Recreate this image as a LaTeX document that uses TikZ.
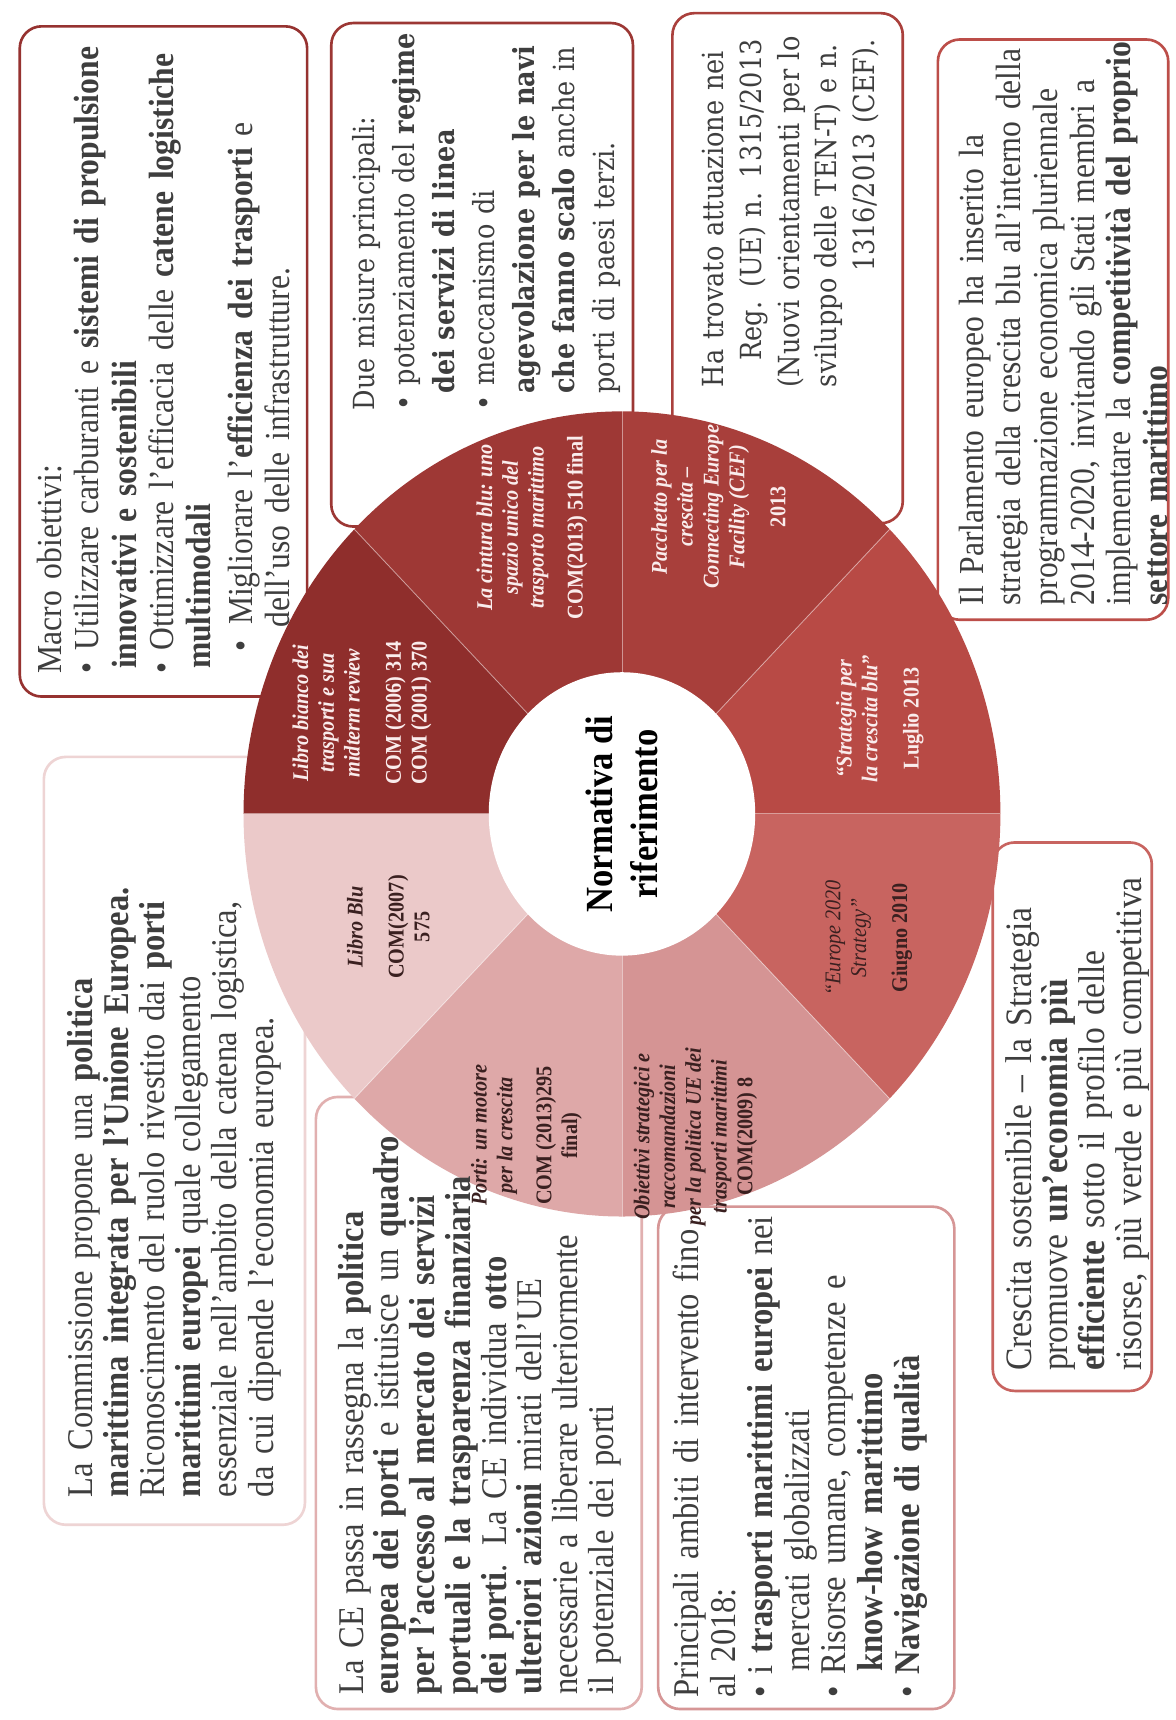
\documentclass[tikz,border=0pt]{standalone}
\usepackage{fontspec}
\setmainfont{Liberation Serif}[FakeStretch=0.9]
\newfontfamily\wideserif{DejaVu Serif}[FakeStretch=0.88]
\definecolor{bodytxt}{RGB}{62,62,62}
\definecolor{sLbi}{RGB}{143,46,44}
\definecolor{sCin}{RGB}{158,56,53}
\definecolor{sPac}{RGB}{168,63,59}
\definecolor{sStr}{RGB}{184,74,69}
\definecolor{sEur}{RGB}{200,100,96}
\definecolor{sObi}{RGB}{213,148,148}
\definecolor{sPor}{RGB}{222,168,168}
\definecolor{sLbl}{RGB}{235,201,201}
\definecolor{labLight}{RGB}{250,236,236}
\definecolor{labDark}{RGB}{58,32,32}
\definecolor{bA}{RGB}{150,50,48}
\definecolor{bB}{RGB}{156,55,52}
\definecolor{bC}{RGB}{170,64,60}
\definecolor{bD}{RGB}{188,78,73}
\definecolor{bE}{RGB}{200,100,96}
\definecolor{bF}{RGB}{214,150,150}
\definecolor{bG}{RGB}{225,176,176}
\definecolor{bH}{RGB}{238,212,212}
\newcommand\wseg[3]{\fill[#1] (#2:1) arc[start angle=#2, end angle=#3, radius=1] -- (#3:0.35) arc[start angle=#3, end angle=#2, radius=0.35] -- cycle;}
\newcommand\jl[2]{\makebox[#1][s]{#2}}
\begin{document}
\begin{tikzpicture}[x=1pt,y=1pt,
  bx/.style={line width=2.4pt, rounded corners=20pt, fill=white},
  txt/.style={rotate=90, anchor=base west, inner sep=0pt, align=left, text=bodytxt},
  lab/.style={rotate=90, anchor=center, inner sep=0pt, align=center, font=\fontsize{20.5}{23.5}\selectfont\bfseries},
  sep/.style={white, opacity=0.45, line width=0.8pt}]
\useasboundingbox (0,0) rectangle (1072,-1568);
\fill[white] (0,0) rectangle (1072,-1568);
% boxes
\draw[bx, draw=bA] (18,-24) rectangle (280,-635);
\draw[bx, draw=bB] (302,-21) rectangle (577,-480);
\draw[bx, draw=bC] (613,-12) rectangle (823,-477);
\draw[bx, draw=bD] (855,-36) rectangle (1065,-565);
\draw[bx, draw=bE] (905,-768) rectangle (1050,-1268);
\draw[bx, draw=bF] (600,-1100) rectangle (870,-1558);
\draw[bx, draw=bG] (288,-1000) rectangle (585,-1558);
\draw[bx, draw=bH] (40,-690) rectangle (278,-1390);
% wheel
\begin{scope}[shift={(567,-742)}, xscale=345, yscale=367]
\wseg{sLbi}{135}{180}
\wseg{sCin}{90}{135}
\wseg{sPac}{45}{90}
\wseg{sStr}{0}{45}
\wseg{sEur}{-45}{0}
\wseg{sObi}{-90}{-45}
\wseg{sPor}{-135}{-90}
\wseg{sLbl}{-180}{-135}
\foreach \a in {0,45,...,315} \draw[sep] (\a:0.35) -- (\a:1);
\fill[white] (0,0) circle[radius=0.352];
\end{scope}
% wheel labels
\node[lab, text=labLight] (lbi) at (330,-650) {\textit{Libro bianco dei}\\\textit{trasporti e sua}\\\textit{midterm review}\\[14pt]COM (2006) 314\\COM (2001) 370};
\node[lab, text=labLight] (lcin) at (485,-481) {\textit{La cintura blu: uno}\\\textit{spazio unico del}\\\textit{trasporto marittimo}\\[12pt]COM(2013) 510 final};
\node[lab, text=labLight] (lpac) at (655,-462) {\textit{Pacchetto per la}\\\textit{crescita –}\\\textit{Connecting Europe}\\\textit{Facility (CEF)}\\[14pt]2013};
\node[lab, text=labLight] (lstr) at (802,-655) {\textit{“Strategia per}\\\textit{la crescita blu”}\\[14pt]Luglio 2013};
\node[lab, text=labDark] (leur) at (792,-855) {\textit{\mdseries “Europe 2020}\\\textit{\mdseries Strategy”}\\[14pt]Giugno 2010};
\node[lab, text=labDark] (lobi) at (634,-1036) {\textit{Obiettivi strategici e}\\\textit{raccomandazioni}\\\textit{per la politica UE dei}\\\textit{trasporti marittimi}\\COM(2009) 8};
\node[lab, text=labDark] (lpor) at (480,-1035) {\textit{Porti: un motore}\\\textit{per la crescita}\\[12pt]COM (2013)295\\final)};
\node[lab, text=labDark] (llbl) at (354,-845) {\textit{Libro Blu}\\[14pt]COM(2007)\\575};
\node[rotate=90, align=center, inner sep=0pt, font=\fontsize{35}{41}\selectfont\bfseries] (ctr) at (567,-742) {Normativa di\\riferimento};
% box texts
\node[txt, text width=900pt, font=\fontsize{32}{34}\selectfont] (tA) at (56,-614) {%
Macro obiettivi:\\
•\ Utilizzare carburanti e \textbf{sistemi di propulsione}\\
\hspace*{4pt}\textbf{innovativi e sostenibili}\\
•\ Ottimizzare l'efficacia delle \textbf{catene logistiche}\\
\hspace*{4pt}\textbf{multimodali}\\[4pt]
\hspace*{20pt}•\hspace{14pt}Migliorare l'\textbf{efficienza dei trasporti} e\\
\hspace*{42pt}dell'uso delle infrastrutture.};
\node[txt, text width=900pt, font=\wideserif\fontsize{26.5}{36.5}\selectfont] (tB) at (341,-374) {%
Due misure principali:\\
\jl{339pt}{• potenziamento del \textbf{regime}}\\
\hspace*{15pt}\textbf{dei servizi di linea}\\
• meccanismo di\\
\hspace*{15pt}\jl{324pt}{\textbf{agevolazione per le navi}}\\
\hspace*{15pt}\jl{324pt}{\textbf{che fanno scalo} anche in}\\
\hspace*{15pt}porti di paesi terzi.};
\node[txt, text width=317pt, font=\wideserif\fontsize{26.5}{34.3}\selectfont] (tC) at (660,-353) {%
\jl{317pt}{Ha trovato attuazione nei}\\
\makebox[317pt][r]{Reg. (UE) n. 1315/2013}\\
\jl{317pt}{(Nuovi orientamenti per lo}\\
\jl{317pt}{sviluppo delle TEN-T) e n.}\\
\makebox[317pt][r]{1316/2013 (CEF).}};
\begin{scope}
\clip (855,-36) rectangle (1063,-565);
\node[txt, text width=900pt, font=\fontsize{32}{33.5}\selectfont] (tD) at (897,-552) {%
\jl{512pt}{Il Parlamento europeo ha inserito la}\\
\jl{512pt}{strategia della crescita blu all'interno della}\\
\jl{512pt}{programmazione economica pluriennale}\\
\jl{512pt}{2014-2020, invitando gli Stati membri a}\\
\jl{512pt}{implementare la \textbf{competitività del proprio}}\\
\textbf{settore marittimo}};
\end{scope}
\node[txt, text width=900pt, font=\fontsize{34}{33.5}\selectfont] (tE) at (940,-1250) {%
\jl{460pt}{Crescita sostenibile – la Strategia}\\
\jl{460pt}{promuove \textbf{un'economia} \textbf{più}}\\
\jl{460pt}{\textbf{efficiente} sotto il profilo delle}\\
\jl{460pt}{risorse, più verde e più competitiva}};
\node[txt, text width=900pt, font=\fontsize{33}{33.5}\selectfont] (tF) at (637,-1548) {%
\jl{432pt}{Principali ambiti di intervento fino}\\
al 2018:\\
\jl{432pt}{•\ i \textbf{trasporti marittimi europei} nei}\\
\hspace*{24pt}mercati globalizzati\\
•\ Risorse umane, competenze e\\
\hspace*{24pt}\textbf{know-how marittimo}\\
•\ \textbf{Navigazione di qualità}};
\node[txt, text width=900pt, font=\fontsize{33}{32.6}\selectfont] (tG) at (331,-1545) {%
\jl{535pt}{La CE passa in rassegna la \textbf{politica}}\\
\jl{535pt}{\textbf{europea dei porti} e istituisce un \textbf{quadro}}\\
\jl{535pt}{\textbf{per l'accesso al mercato dei servizi}}\\
\jl{535pt}{\textbf{portuali e la trasparenza finanziaria}}\\
\textbf{dei porti}. La CE individua \textbf{otto}\\
\textbf{ulteriori azioni} mirati dell'UE\\
\jl{535pt}{necessarie a liberare ulteriormente}\\
il potenziale dei porti};
\node[txt, text width=900pt, font=\fontsize{33}{33}\selectfont] (tH) at (84,-1365) {%
La Commissione propone una \textbf{politica}\\
\jl{645pt}{\textbf{marittima integrata per l'Unione Europea.}}\\
\jl{645pt}{Riconoscimento del ruolo rivestito dai \textbf{porti}}\\
\textbf{marittimi europei} quale collegamento\\
\jl{645pt}{essenziale nell'ambito della catena logistica,}\\
da cui dipende l'economia europea.};
\end{tikzpicture}
\end{document}
